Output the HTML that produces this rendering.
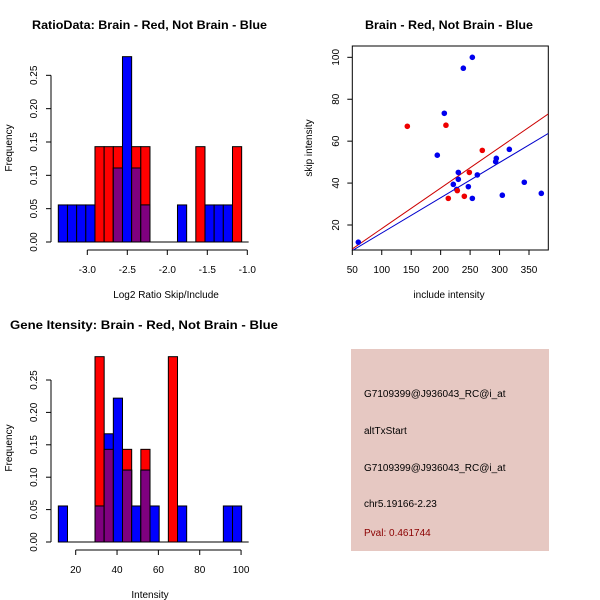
<!DOCTYPE html>
<html><head><meta charset="utf-8"><style>
body{margin:0;background:#fff}
svg{display:block;font-family:"Liberation Sans",sans-serif}
</style></head><body>
<svg id="c" width="600" height="600" viewBox="0 0 600 600">
<rect x="0" y="0" width="600" height="600" fill="#fff"/>
<text x="32" y="29" font-size="12" font-weight="bold" textLength="235" lengthAdjust="spacingAndGlyphs">RatioData: Brain - Red, Not Brain - Blue</text>
<text x="365" y="29" font-size="12" font-weight="bold" textLength="168" lengthAdjust="spacingAndGlyphs">Brain - Red, Not Brain - Blue</text>
<text x="10" y="329" font-size="12" font-weight="bold" textLength="268" lengthAdjust="spacingAndGlyphs">Gene Itensity: Brain - Red, Not Brain - Blue</text>
<text x="166" y="298" font-size="10" text-anchor="middle">Log2 Ratio Skip/Include</text>
<text x="12" y="148" font-size="10" text-anchor="middle" transform="rotate(-90 12 148)">Frequency</text>
<text x="449" y="298" font-size="10" text-anchor="middle">include intensity</text>
<text x="312" y="148" font-size="10" text-anchor="middle" transform="rotate(-90 312 148)">skip intensity</text>
<text x="150" y="598" font-size="10" text-anchor="middle">Intensity</text>
<text x="12" y="448" font-size="10" text-anchor="middle" transform="rotate(-90 12 448)">Frequency</text>
<g>
<rect x="351" y="349" width="198" height="202" fill="#E6C8C2"/>
<text x="364" y="397" font-size="10">G7109399@J936043_RC@i_at</text>
<text x="364" y="434" font-size="10">altTxStart</text>
<text x="364" y="471" font-size="10">G7109399@J936043_RC@i_at</text>
<text x="364" y="507" font-size="10">chr5.19166-2.23</text>
<text x="364" y="536" font-size="10" fill="#8B0000">Pval: 0.461744</text>
</g>
</svg>
<script>
// Ratio histogram data
const ratioStart = -3.3625;
const ratioBinWidth = 0.1146;
const ratioRed  = [0,0,0,0,0.143,0.143,0.143,0,0.143,0.143,0,0,0,0,0,0.143,0,0,0,0.143];
const ratioBlue = [0.0556,0.0556,0.0556,0.0556,0,0,0.111,0.278,0.111,0.0556,0,0,0,0.0556,0,0,0.0556,0.0556,0.0556,0];
const ratioXTicks = [-3.0,-2.5,-2.0,-1.5,-1.0];
const ratioXLabels = ["-3.0","-2.5","-2.0","-1.5","-1.0"];
const freqTicks = [0,0.05,0.10,0.15,0.20,0.25];
const freqLabels = ["0.00","0.05","0.10","0.15","0.20","0.25"];
// Gene intensity histogram data
const geneStart = 11.6;
const geneBinWidth = 4.435;
const geneRed  = [0,0,0,0,0.286,0.143,0,0.143,0,0.143,0,0,0.286,0,0,0,0,0,0,0];
const geneBlue = [0.0556,0,0,0,0.0556,0.167,0.222,0.111,0.0556,0.111,0.0556,0,0,0.0556,0,0,0,0,0.0556,0.0556];
const geneXTicks = [20,40,60,80,100];
const geneXLabels = ["20","40","60","80","100"];
// Scatter data
const blueX = [60.2,253.8,238.5,206.2,194.3,221.5,230,230,227.2,247,253.8,262.3,293.4,294.5,316.6,304.7,342,370.9];
const blueY = [11.8,100,94.8,73.3,53.3,39.4,45.1,41.8,37.0,38.3,32.7,43.9,50.2,51.8,56.1,34.2,40.4,35.1];
const redX = [143.4,209,270.7,248.7,228.3,213,240.2];
const redY = [67.1,67.6,55.6,45.1,36.4,32.7,33.7];
const redFit = [-1.08,0.1935];
const blueFit = [-0.6,0.168];
const scXTicks = [50,100,150,200,250,300,350];
const scYTicks = [20,40,60,80,100];

const svg = document.getElementById('c');
const NS = 'http://www.w3.org/2000/svg';
function mk(tag, attrs){const e=document.createElementNS(NS,tag);for(const k in attrs)e.setAttribute(k,attrs[k]);svg.appendChild(e);return e;}

function hist(name, start, bw, red, blue, xs, xT, xL, yZero, pxPerUnit){
  const sx = v => xs.a + (v - xs.v0)*xs.k;
  const sy = v => yZero - v*pxPerUnit;
  for(let i=0;i<red.length;i++){
    const l=sx(start+i*bw), r=sx(start+(i+1)*bw);
    const rv=red[i], bv=blue[i], ov=Math.min(rv,bv);
    if(rv>0){const e=mk('rect',{x:l,y:sy(rv),width:r-l,height:sy(0)-sy(rv),fill:'#FF0000',stroke:'#000','stroke-width':1});
      
      }
    if(bv>0){const e=mk('rect',{x:l,y:sy(bv),width:r-l,height:sy(0)-sy(bv),fill:'#0000FF',stroke:'#000','stroke-width':1});
      
      }
    if(ov>0){const e=mk('rect',{x:l,y:sy(ov),width:r-l,height:sy(0)-sy(ov),fill:'#7F007F',stroke:'#000','stroke-width':1});
      
      }
  }
  const bl=mk('line',{x1:sx(start),x2:sx(start+red.length*bw)+7,y1:sy(0),y2:sy(0),stroke:'#000'});
  
  
  const xa=mk('line',{x1:sx(xT[0]),x2:sx(xT[xT.length-1]),y1:yZero+8,y2:yZero+8,stroke:'#000'});
  
  
  xT.forEach((t,i)=>{
    mk('line',{x1:sx(t),x2:sx(t),y1:yZero+8,y2:yZero+13,stroke:'#000'});
    const tx=mk('text',{x:sx(t),y:yZero+31,'font-size':10,'text-anchor':'middle'});
    tx.textContent=xL[i];
    
    
  });
  const ya=mk('line',{x1:51,x2:51,y1:sy(0),y2:sy(0.25),stroke:'#000'});
  
  
  freqTicks.forEach((t,i)=>{
    mk('line',{x1:46,x2:51,y1:sy(t),y2:sy(t),stroke:'#000'});
    const tx=mk('text',{x:37,y:sy(t),'font-size':10,'text-anchor':'middle',transform:`rotate(-90 37 ${sy(t)})`});
    tx.textContent=freqLabels[i];
    
    
  });
}
hist('ratio-hist', ratioStart, ratioBinWidth, ratioRed, ratioBlue, {a:87.3,v0:-3.0,k:80}, ratioXTicks, ratioXLabels, 242, 666.7);
hist('gene-hist', geneStart, geneBinWidth, geneRed, geneBlue, {a:75.7,v0:20,k:2.067}, geneXTicks, geneXLabels, 542, 648);

// Scatter
const px = v => 352.3 + (v-50)*0.589;
const py = v => 225 - (v-20)*2.096;
const defs=mk('defs',{});
const clip=document.createElementNS(NS,'clipPath');clip.setAttribute('id','scclip');
const cr=document.createElementNS(NS,'rect');cr.setAttribute('x',352.3);cr.setAttribute('y',46);cr.setAttribute('width',196);cr.setAttribute('height',204);
clip.appendChild(cr);defs.appendChild(clip);
const box=mk('rect',{x:352.3,y:46,width:196,height:204,fill:'none',stroke:'#000'});


scXTicks.forEach(t=>{
  mk('line',{x1:px(t),x2:px(t),y1:250,y2:255,stroke:'#000'});
  const tx=mk('text',{x:px(t),y:273,'font-size':10,'text-anchor':'middle'});
  tx.textContent=String(t);
  
  
});
scYTicks.forEach(t=>{
  mk('line',{x1:347.3,x2:352.3,y1:py(t),y2:py(t),stroke:'#000'});
  const tx=mk('text',{x:339,y:py(t),'font-size':10,'text-anchor':'middle',transform:`rotate(-90 339 ${py(t)})`});
  tx.textContent=String(t);
  
  
});
function fitLine(f,color,name){
  const xa=50, xb=382.8;
  const l=mk('line',{x1:px(xa),y1:py(f[0]+f[1]*xa),x2:px(xb),y2:py(f[0]+f[1]*xb),stroke:color,'stroke-width':1,'clip-path':'url(#scclip)'});
  
  
}
fitLine(redFit,'#CC0000','red-fit-line');
fitLine(blueFit,'#0000CC','blue-fit-line');
blueX.forEach((x,i)=>{
  const c=mk('circle',{cx:px(x),cy:py(blueY[i]),r:2.8,fill:'#0000EE'});
  
  
});
redX.forEach((x,i)=>{
  const c=mk('circle',{cx:px(x),cy:py(redY[i]),r:2.8,fill:'#EE0000'});
  
  
});
</script>
</body></html>
